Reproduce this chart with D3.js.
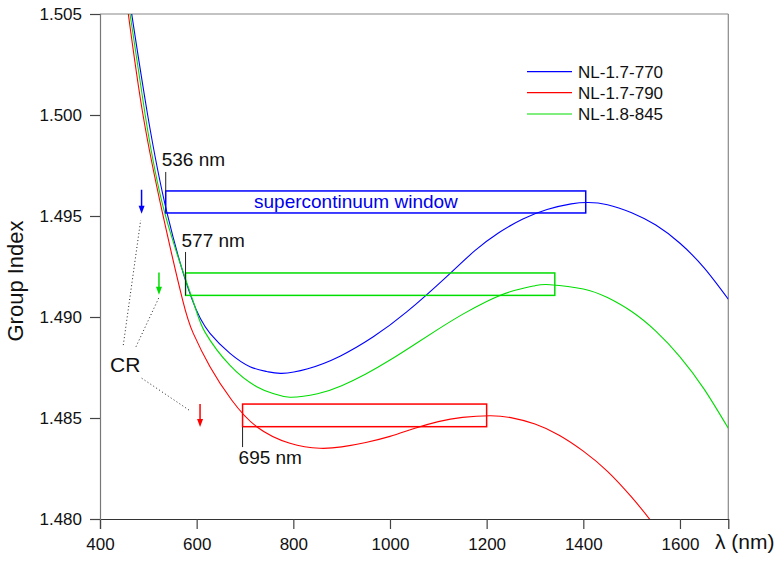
<!DOCTYPE html>
<html>
<head>
<meta charset="utf-8">
<script src="https://cdn.jsdelivr.net/npm/d3@7"></script>
<style>
  html, body { margin: 0; padding: 0; background: #fff; }
  svg { display: block; font-family: "Liberation Sans", Arial, Helvetica, sans-serif; }
</style>
</head>
<body>
<svg id="chart" width="784" height="562"></svg>
<script>
// ---------- data ----------
const seriesNames = ["NL-1.7-770", "NL-1.7-790", "NL-1.8-845"];
const seriesColors = ["#0000ff", "#ff0000", "#00dd00"];

// [wavelength nm, group index]
const blueData = [
  [465.6, 1.50500], [498.6, 1.50000], [539.2, 1.49510], [589.7, 1.49092], [627.6, 1.48919],
  [669.0, 1.48820], [710.3, 1.48754], [745.0, 1.48730], [776.0, 1.48721], [830, 1.48744],
  [896.6, 1.48806], [965.5, 1.48902], [1034.6, 1.49025], [1117.3, 1.49200], [1175, 1.49327],
  [1225, 1.49417], [1275, 1.49485], [1325, 1.49532], [1375, 1.49560], [1410, 1.49567],
  [1450, 1.49556], [1500, 1.49516], [1550, 1.49455], [1600, 1.49365], [1650, 1.49243],
  [1700, 1.49088]
];
const redData = [
  [458.6, 1.50500], [489.0, 1.50000], [529.7, 1.49510], [571.0, 1.49084], [593.0, 1.48919],
  [627.6, 1.48754], [672.4, 1.48589], [724.2, 1.48457], [793.0, 1.48375], [855, 1.48350],
  [900, 1.48357], [950, 1.48379], [1000, 1.48409], [1050, 1.48448], [1100, 1.48482],
  [1150, 1.48503], [1207, 1.48511], [1250, 1.48502], [1300, 1.48470], [1350, 1.48415],
  [1400, 1.48336], [1450, 1.48236], [1500, 1.48108], [1550, 1.47958], [1600, 1.47780]
];
const greenData = [
  [462.1, 1.50500], [493.5, 1.50000], [534.5, 1.49510], [591.8, 1.49084], [617.2, 1.48925],
  [669.0, 1.48760], [724.2, 1.48655], [760, 1.48620], [793, 1.48603], [850, 1.48620],
  [900, 1.48660], [950, 1.48718], [1000, 1.48787], [1050, 1.48863], [1100, 1.48940],
  [1150, 1.49013], [1200, 1.49077], [1250, 1.49126], [1300, 1.49155], [1331, 1.49160],
  [1400, 1.49139], [1450, 1.49096], [1500, 1.49027], [1550, 1.48930], [1600, 1.48803],
  [1650, 1.48643], [1700, 1.48449]
];
const allSeries = [blueData, redData, greenData];

const xTicks = [400, 600, 800, 1000, 1200, 1400, 1600];
const yTicks = [1.480, 1.485, 1.490, 1.495, 1.500, 1.505];

// window boxes: [lambda start, lambda end, n low, n high]
const boxBlue = [536, 1405, 1.49515, 1.49624];
const boxGreen = [577, 1341, 1.49107, 1.49218];
const boxRed = [695, 1200, 1.48457, 1.48569];
const boxes = [boxBlue, boxRed, boxGreen];

// edge labels: [lambda, label, line n from, line n to, text n]
const edgeLabels = [
  [536, "536 nm", 1.49718, 1.49624, 1.49746],
  [577, "577 nm", 1.49322, 1.49107, 1.49349],
  [695, "695 nm", 1.48455, 1.48356, 1.48272]
];

// CR arrows: [lambda, n top, n bottom]
const crArrows = [[486, 1.49630, 1.49511], [522, 1.49220, 1.49110], [607, 1.48569, 1.48455]];
// CR dotted leaders: [lambda1, n1, lambda2, n2]
const crLeaders = [
  [448.2, 1.48861, 484.2, 1.49480],
  [474.5, 1.48853, 522.7, 1.49100],
  [486.3, 1.48697, 586.2, 1.48536]
];

// ---------- layout ----------
const svg = d3.select("#chart");
const x = d3.scaleLinear().domain([400, 1700]).range([100, 728.3]);
const y = d3.scaleLinear().domain([1.480, 1.505]).range([519, 14]);
const font = 17;

svg.append("defs").append("clipPath").attr("id", "clip")
  .append("rect").attr("x", 100).attr("y", 14).attr("width", 628.3).attr("height", 505);

// frame
svg.append("line").attr("x1", 100).attr("x2", 728.3).attr("y1", 14).attr("y2", 14).attr("stroke", "#888").attr("stroke-width", 1.2);
svg.append("line").attr("x1", 728.3).attr("x2", 728.3).attr("y1", 14).attr("y2", 519).attr("stroke", "#888").attr("stroke-width", 1.2);

// axes
const xAxis = svg.append("g").attr("transform", "translate(0,519)")
  .call(d3.axisBottom(x).tickValues(xTicks).tickSize(10).tickPadding(9).tickFormat(d3.format("d")));
const yAxis = svg.append("g").attr("transform", "translate(100,0)")
  .call(d3.axisLeft(y).tickValues(yTicks).tickSize(10).tickPadding(8).tickFormat(d3.format(".3f")));
[xAxis, yAxis].forEach(g => {
  g.selectAll("text").attr("font-size", font).attr("font-family", "Liberation Sans, Arial, sans-serif").attr("fill", "#111");
  g.selectAll("line").attr("stroke", "#444").attr("stroke-width", 1.2);
});
xAxis.select(".domain").attr("stroke", "#333").attr("stroke-width", 1.2);
yAxis.select(".domain").attr("stroke", "#777").attr("stroke-width", 1.2);

// axis titles
svg.append("text").attr("x", 715).attr("y", 549).attr("font-size", 21).attr("fill", "#111").text("λ (nm)");
svg.append("text").attr("transform", "translate(23,281) rotate(-90)").attr("text-anchor", "middle")
  .attr("font-size", 22).attr("fill", "#111").text("Group Index");

// curves
const line = d3.line().x(d => x(d[0])).y(d => y(d[1])).curve(d3.curveNatural);
const plot = svg.append("g").attr("clip-path", "url(#clip)");
plot.selectAll("path.curve").data(allSeries).join("path")
  .attr("class", "curve").attr("d", line).attr("fill", "none")
  .attr("stroke", (d, i) => seriesColors[i]).attr("stroke-width", 1.1);

// boxes
svg.selectAll("rect.box").data(boxes).join("rect").attr("class", "box")
  .attr("x", d => x(d[0])).attr("y", d => y(d[3]))
  .attr("width", d => x(d[1]) - x(d[0])).attr("height", d => y(d[2]) - y(d[3]))
  .attr("fill", "none").attr("stroke", (d, i) => seriesColors[i]).attr("stroke-width", 1.5);

svg.append("text").attr("x", 254).attr("y", 208).attr("font-size", 19).attr("fill", "#0000ee")
  .text("supercontinuum window");

// edge labels
edgeLabels.forEach(d => {
  svg.append("line").attr("x1", x(d[0])).attr("x2", x(d[0])).attr("y1", y(d[2])).attr("y2", y(d[3]))
    .attr("stroke", "#222").attr("stroke-width", 1);
  svg.append("text").attr("x", x(d[0]) - 4).attr("y", y(d[4])).attr("font-size", 19).attr("fill", "#111").text(d[1]);
});

// CR arrows
const arrowColors = ["#0000ff", "#00dd00", "#ff0000"];
crArrows.forEach((d, i) => {
  const cx = x(d[0]), y1 = y(d[1]), y2 = y(d[2]);
  svg.append("line").attr("x1", cx).attr("x2", cx).attr("y1", y1).attr("y2", y2 - 6)
    .attr("stroke", arrowColors[i]).attr("stroke-width", 1.5);
  svg.append("path").attr("d", `M${cx - 3},${y2 - 8} L${cx + 3},${y2 - 8} L${cx},${y2} Z`).attr("fill", arrowColors[i]);
});
svg.selectAll("line.leader").data(crLeaders).join("line").attr("class", "leader")
  .attr("x1", d => x(d[0])).attr("y1", d => y(d[1])).attr("x2", d => x(d[2])).attr("y2", d => y(d[3]))
  .attr("stroke", "#222").attr("stroke-width", 1).attr("stroke-dasharray", "1,2.5");
svg.append("text").attr("x", x(420.7)).attr("y", y(1.48728)).attr("font-size", 21).attr("fill", "#111").text("CR");

// legend
const legend = svg.append("g");
const legendY = [71.7, 92.7, 114];
seriesNames.forEach((name, i) => {
  legend.append("line").attr("x1", 527).attr("x2", 572).attr("y1", legendY[i]).attr("y2", legendY[i])
    .attr("stroke", seriesColors[i]).attr("stroke-width", 1.2);
  legend.append("text").attr("x", 578).attr("y", legendY[i] + 6).attr("font-size", font).attr("fill", "#111").text(name);
});
</script>
</body>
</html>
